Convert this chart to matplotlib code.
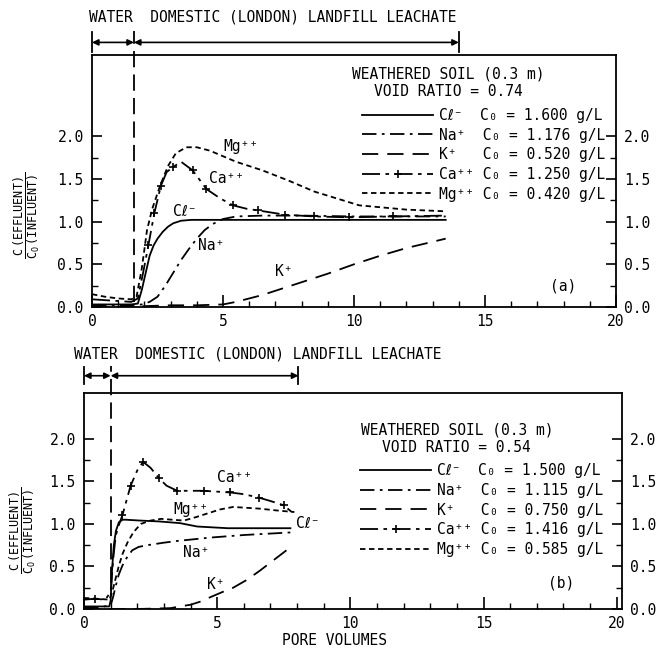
import matplotlib
matplotlib.use('Agg')
import matplotlib.pyplot as plt
import matplotlib.transforms as mtransforms
from matplotlib.ticker import FixedLocator, MultipleLocator

plt.rcParams['font.family'] = ['DejaVu Sans Mono', 'DejaVu Sans']
plt.rcParams['mathtext.fontset'] = 'custom'
plt.rcParams['mathtext.rm'] = 'DejaVu Sans Mono'
plt.rcParams['mathtext.it'] = 'DejaVu Sans Mono'

# ---- panel (a): void ratio 0.74 ----
a_cl_x = [0, 0.5, 1.0, 1.5, 1.75, 1.9, 2.05, 2.2, 2.35, 2.5, 2.7, 2.9, 3.1, 3.4, 3.8, 5, 7, 10, 13.5]
a_cl_y = [0.03, 0.03, 0.03, 0.03, 0.04, 0.2, 0.4, 0.6, 0.72, 0.8, 0.88, 0.94, 0.98, 1.01, 1.02, 1.02, 1.02, 1.02, 1.02]
a_na_x = [0, 1.0, 1.6, 1.9, 2.2, 2.5, 2.8, 3.1, 3.4, 3.7, 4.0, 4.3, 4.6, 5.0, 5.5, 6.5, 8, 10, 13.5]
a_na_y = [0.02, 0.02, 0.02, 0.03, 0.06, 0.12, 0.25, 0.4, 0.55, 0.68, 0.8, 0.9, 0.97, 1.03, 1.06, 1.07, 1.07, 1.06, 1.06]
a_k_x = [0, 1, 2, 3, 4, 5, 5.5, 6, 6.5, 7, 8, 9, 10, 11, 12, 13.5]
a_k_y = [0.0, 0.0, 0.01, 0.02, 0.02, 0.03, 0.06, 0.1, 0.14, 0.19, 0.29, 0.39, 0.5, 0.6, 0.69, 0.8]
a_ca_x = [0, 0.5, 1.0, 1.5, 1.75, 1.95, 2.15, 2.38, 2.63, 2.85, 3.1, 3.4, 3.84, 4.37, 4.9, 5.38,
          5.9, 6.35, 7.37, 8.48, 9.8, 11.5, 13.5]
a_ca_y = [0.09, 0.08, 0.07, 0.06, 0.1, 0.4, 0.72, 1.1, 1.42, 1.58, 1.64, 1.7, 1.6, 1.38, 1.27, 1.19,
          1.15, 1.13, 1.08, 1.06, 1.05, 1.06, 1.07]
a_ca_marks = [6, 7, 8, 10, 12, 13, 15, 17, 18, 19, 20, 21]
a_mg_x = [0, 0.5, 1.0, 1.5, 1.7, 1.9, 2.1, 2.3, 2.6, 2.9, 3.2, 3.6, 4.0, 4.5, 5.5, 6.5, 7.5, 8.5, 10.2, 12, 13.5]
a_mg_y = [0.15, 0.12, 0.1, 0.09, 0.12, 0.45, 0.9, 1.15, 1.42, 1.65, 1.8, 1.87, 1.87, 1.83, 1.7, 1.6,
          1.48, 1.35, 1.19, 1.14, 1.12]
a_conc = ['1.600', '1.176', '0.520', '1.250', '0.420']
a_void = '0.74'
a_switch = 1.6
a_end = 14.0

# ---- panel (b): void ratio 0.54 ----
b_cl_x = [0, 0.5, 0.95, 1.0, 1.05, 1.12, 1.2, 1.31, 1.45, 1.56, 2.1, 2.8, 3.6, 4.25, 5.4, 6.5, 7.75]
b_cl_y = [0.03, 0.03, 0.03, 0.1, 0.45, 0.75, 0.92, 1.02, 1.05, 1.05, 1.04, 1.03, 1.01, 0.97, 0.95, 0.95, 0.95]
b_na_x = [0, 0.5, 1.0, 1.1, 1.19, 1.3, 1.44, 1.6, 1.81, 2.05, 2.37, 3.0, 3.5, 4.75, 6.0, 7.75]
b_na_y = [0.02, 0.02, 0.04, 0.15, 0.27, 0.4, 0.51, 0.6, 0.69, 0.73, 0.75, 0.78, 0.8, 0.84, 0.87, 0.9]
b_k_x = [0, 1, 2, 3.25, 3.6, 4.0, 4.4, 4.75, 5.2, 5.6, 6.1, 6.6, 7.1, 7.6]
b_k_y = [0.0, 0.0, 0.0, 0.01, 0.03, 0.05, 0.09, 0.14, 0.2, 0.25, 0.34, 0.45, 0.57, 0.69]
b_ca_x = [0, 0.4, 0.8, 1.0, 1.1, 1.19, 1.3, 1.44, 1.6, 1.75, 2.0, 2.22, 2.5, 2.81, 3.1, 3.5, 4.0, 4.5,
          5.0, 5.5, 6.0, 6.56, 7.0, 7.5, 7.8]
b_ca_y = [0.11, 0.12, 0.11, 0.2, 0.6, 0.86, 0.98, 1.1, 1.28, 1.45, 1.63, 1.73, 1.66, 1.54, 1.45, 1.39,
          1.39, 1.39, 1.38, 1.37, 1.35, 1.31, 1.27, 1.22, 1.14]
b_ca_marks = [1, 7, 9, 11, 13, 15, 17, 19, 21, 23]
b_mg_x = [0, 0.5, 0.95, 1.06, 1.18, 1.31, 1.45, 1.63, 1.85, 2.13, 2.5, 2.9, 3.3, 3.75, 4.2, 4.6, 5.1,
          5.6, 6.1, 6.6, 7.2, 7.9]
b_mg_y = [0.13, 0.12, 0.11, 0.2, 0.35, 0.51, 0.65, 0.78, 0.9, 1.0, 1.04, 1.06, 1.05, 1.04, 1.08, 1.12,
          1.17, 1.2, 1.19, 1.18, 1.16, 1.14]
b_conc = ['1.500', '1.115', '0.750', '1.416', '0.585']
b_void = '0.54'
b_switch = 1.0
b_end = 8.05

names = ['Cℓ⁻', 'Na⁺', 'K⁺', 'Ca⁺⁺', 'Mg⁺⁺']
ions = ['Cℓ⁻ ', 'Na⁺ ', 'K⁺  ', 'Ca⁺⁺', 'Mg⁺⁺']
styles = [dict(ls='-'),
          dict(ls=(0, (8, 3, 1.5, 3))),
          dict(ls=(0, (9, 5))),
          dict(ls=(0, (10, 3, 2, 3)), marker='+', ms=6, mew=1.2),
          dict(ls=(0, (3, 2)))]

FS = 10.5


def draw_panel(ax, series, marks, conc, void, switch, end, ylim, xmax, tag, lab_pos, leg_xy, title_xy,
               span_y, text_xy, vline_bot):
    handles = []
    for i, (x, y) in enumerate(series):
        st = dict(styles[i])
        if i == 3:
            st['markevery'] = marks
        h, = ax.plot(x, y, color='k', lw=1.3, **st)
        handles.append(h)

    ax.set_xlim(0, xmax)
    ax.set_ylim(*ylim)
    ax.xaxis.set_major_locator(FixedLocator([0, 5, 10, 15, 20]))
    ax.xaxis.set_minor_locator(MultipleLocator(1))
    ax.yaxis.set_major_locator(FixedLocator([0, 0.5, 1.0, 1.5, 2.0]))
    ax.yaxis.set_minor_locator(FixedLocator([0.25, 0.75, 1.25, 1.75]))
    ax.set_yticklabels(['0.0', '0.5', '1.0', '1.5', '2.0'])
    ax.tick_params(which='both', direction='in', labelsize=FS, right=True, labelright=True, top=False)
    ax.tick_params(axis='x', which='major', length=9, width=1.2, pad=5)
    ax.tick_params(axis='x', which='minor', length=4, width=1)
    ax.tick_params(axis='y', which='major', length=7, width=1.2, pad=6)
    ax.tick_params(axis='y', which='minor', length=4, width=1)
    for sp in ax.spines.values():
        sp.set_linewidth(1.3)

    # curve labels
    for nm, (lx, ly) in zip(names, lab_pos):
        ax.text(lx, ly, nm, fontsize=FS, ha='left', va='center')

    # legend block
    ax.text(title_xy[0], title_xy[1], 'WEATHERED SOIL (0.3 m)\nVOID RATIO = ' + void,
            ha='center', va='center', fontsize=FS, linespacing=1.2)
    labels = [f'{ion} C₀ = {c} g/L' for ion, c in zip(ions, conc)]
    ax.legend(handles, labels, loc='upper left', bbox_to_anchor=leg_xy, frameon=False,
              fontsize=FS, handlelength=4.9, handletextpad=0.4, labelspacing=0.32,
              borderpad=0, borderaxespad=0, numpoints=1)

    ax.text(tag[0], tag[1], tag[2], fontsize=FS, ha='center', va='center')

    # water / leachate annotation above the axes
    tr = mtransforms.blended_transform_factory(ax.transData, ax.transAxes)
    ax.plot([switch, switch], [vline_bot, span_y + 0.045], transform=tr, clip_on=False,
            color='k', lw=1.3, ls=(0, (9, 4)))
    for xc in (0, end):
        ax.plot([xc, xc], [span_y - 0.04, span_y + 0.04], transform=tr, clip_on=False, color='k', lw=1.3)
    for x0, x1 in ((0, switch), (switch, end)):
        ax.annotate('', xy=(x1, span_y), xytext=(x0, span_y), xycoords=tr, textcoords=tr,
                    annotation_clip=False,
                    arrowprops=dict(arrowstyle='<|-|>', color='k', lw=1.2, shrinkA=0, shrinkB=0,
                                    mutation_scale=9))
    ax.text(text_xy[0], text_xy[1], 'WATER  DOMESTIC (LONDON) LANDFILL LEACHATE', transform=tr,
            ha='left', va='center', fontsize=FS)

    ax.set_ylabel(r'$\dfrac{\mathrm{C\ (EFFLUENT)}}{\mathrm{C_O\ (INFLUENT)}}$', fontsize=8.5)


fig = plt.figure(figsize=(6.56, 6.56), dpi=100)
ax_a = fig.add_axes([92 / 656, 1 - 307 / 656, 524 / 656, 252 / 656])
ax_b = fig.add_axes([84 / 656, 1 - 609 / 656, 538 / 656, 216 / 656])

draw_panel(ax_a,
           [(a_cl_x, a_cl_y), (a_na_x, a_na_y), (a_k_x, a_k_y), (a_ca_x, a_ca_y), (a_mg_x, a_mg_y)],
           a_ca_marks, a_conc, a_void, a_switch, a_end, (0, 2.95), 20, (18.0, 0.24, '(a)'),
           [(3.1, 1.12), (4.05, 0.72), (7.0, 0.42), (4.45, 1.5), (5.0, 1.88)],
           (0.515, 0.79), (13.6, 2.63), 1.05, (-0.12, 1.15), 0.02)
draw_panel(ax_b,
           [(b_cl_x, b_cl_y), (b_na_x, b_na_y), (b_k_x, b_k_y), (b_ca_x, b_ca_y), (b_mg_x, b_mg_y)],
           b_ca_marks, b_conc, b_void, b_switch, b_end, (0, 2.54), 20.2, (17.9, 0.3, '(b)'),
           [(7.95, 1.0), (3.7, 0.67), (4.6, 0.29), (5.0, 1.55), (3.37, 1.17)],
           (0.513, 0.675), (14.0, 2.0), 1.08, (-0.38, 1.18), 0.12)

ax_a.yaxis.set_label_coords(-0.095, 0.365)
ax_b.yaxis.set_label_coords(-0.086, 0.366)
ax_b.set_xlabel('PORE VOLUMES', fontsize=FS)
ax_b.xaxis.set_label_coords(0.466, -0.111)

fig.savefig('out.png', dpi=100)
